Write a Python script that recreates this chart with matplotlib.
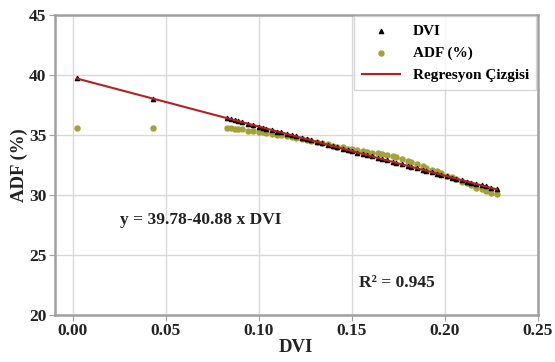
import matplotlib
matplotlib.use("Agg")
import matplotlib.pyplot as plt

plt.rcParams['font.family'] = ['Liberation Serif', 'DejaVu Serif']
plt.rcParams['font.weight'] = 'bold'

# DVI values (x)
dvi = [0.002, 0.043, 0.083, 0.085, 0.087, 0.089, 0.091, 0.094, 0.097, 0.100,
       0.102, 0.104, 0.107, 0.110, 0.112, 0.115, 0.118, 0.120, 0.123, 0.126,
       0.128, 0.131, 0.134, 0.137, 0.140, 0.142, 0.145, 0.148, 0.150, 0.153,
       0.156, 0.158, 0.161, 0.164, 0.166, 0.169, 0.172, 0.174, 0.177, 0.180,
       0.182, 0.185, 0.188, 0.190, 0.193, 0.196, 0.198, 0.201, 0.204, 0.206,
       0.209, 0.212, 0.214, 0.217, 0.220, 0.222, 0.225, 0.228]

# triangles (estimated ADF on the line)
adf_pred = [39.70, 38.02, 36.39, 36.31, 36.22, 36.14, 36.06, 35.94, 35.81, 35.69,
            35.61, 35.53, 35.41, 35.28, 35.20, 35.08, 34.96, 34.87, 34.75, 34.63,
            34.55, 34.42, 34.30, 34.18, 34.06, 33.97, 33.85, 33.73, 33.65, 33.53,
            33.40, 33.32, 33.20, 33.08, 32.99, 32.87, 32.75, 32.67, 32.54, 32.42,
            32.34, 32.22, 32.09, 32.01, 31.89, 31.77, 31.69, 31.56, 31.44, 31.36,
            31.24, 31.11, 31.03, 30.91, 30.79, 30.70, 30.58, 30.46]

# measured ADF (%)
adf_obs = [35.55, 35.55, 35.55, 35.55, 35.50, 35.50, 35.45, 35.30, 35.30, 35.25,
           35.20, 35.15, 35.10, 35.00, 34.95, 34.90, 34.80, 34.75, 34.65, 34.55,
           34.50, 34.40, 34.30, 34.20, 34.10, 34.00, 33.95, 33.85, 33.80, 33.70,
           33.65, 33.60, 33.50, 33.45, 33.40, 33.30, 33.20, 33.15, 33.00, 32.85,
           32.70, 32.55, 32.40, 32.25, 32.10, 31.95, 31.80, 31.60, 31.45, 31.30,
           31.10, 30.95, 30.80, 30.60, 30.45, 30.30, 30.15, 30.05]

intercept = 39.78
slope = -40.88

fig = plt.figure(figsize=(5.55, 3.62), dpi=100)
ax = fig.add_axes([0.099, 0.130, 0.870, 0.829])

ax.scatter(dvi, adf_pred, marker='^', s=9, color='black', label='DVI', zorder=3)
ax.scatter(dvi, adf_obs, marker='o', s=13, color='#a3a236', label='ADF (%)', zorder=2)
xl = [dvi[0], dvi[-1]]
ax.plot(xl, [intercept + slope * v for v in xl], color='#b22222', lw=1.5,
        label='Regresyon Çizgisi', zorder=4)

ax.set_xlim(-0.0097, 0.25)
ax.set_ylim(20, 45)
ax.set_xticks([0, 0.05, 0.10, 0.15, 0.20, 0.25])
ax.set_xticklabels(['0.00', '0.05', '0.10', '0.15', '0.20', '0.25'])
ax.set_yticks([20, 25, 30, 35, 40, 45])
ax.grid(True, color='#d9d9d9', lw=1)
ax.set_axisbelow(True)
for sp in ax.spines.values():
    sp.set_color('#a0a0a0')
    sp.set_linewidth(1.8)
ax.tick_params(colors='#a0a0a0', labelcolor='#222222', labelsize=12.5, length=4, pad=2)
for t in ax.get_xticklabels() + ax.get_yticklabels():
    t.set_fontweight('bold')

ax.set_xlabel('DVI', fontsize=13.5, fontweight='bold', color='#222222', labelpad=0)
ax.set_ylabel('ADF (%)', fontsize=13.5, fontweight='bold', color='#222222', labelpad=1)

ax.text(0.0255, 27.9, 'y = 39.78-40.88 x DVI', fontsize=12.5, fontweight='bold',
        color='#222222', va='center')
ax.text(0.154, 22.7, 'R² = 0.945', fontsize=12.5, fontweight='bold',
        color='#222222', va='center')

leg = ax.legend(loc='upper right', fontsize=11, frameon=True, fancybox=False,
                borderaxespad=0.1, handlelength=2.5, markerscale=1.0,
                labelspacing=0.55, borderpad=0.5)
leg.get_frame().set_edgecolor('#cccccc')
for t in leg.get_texts():
    t.set_fontweight('bold')

fig.savefig('out.png', dpi=100)
